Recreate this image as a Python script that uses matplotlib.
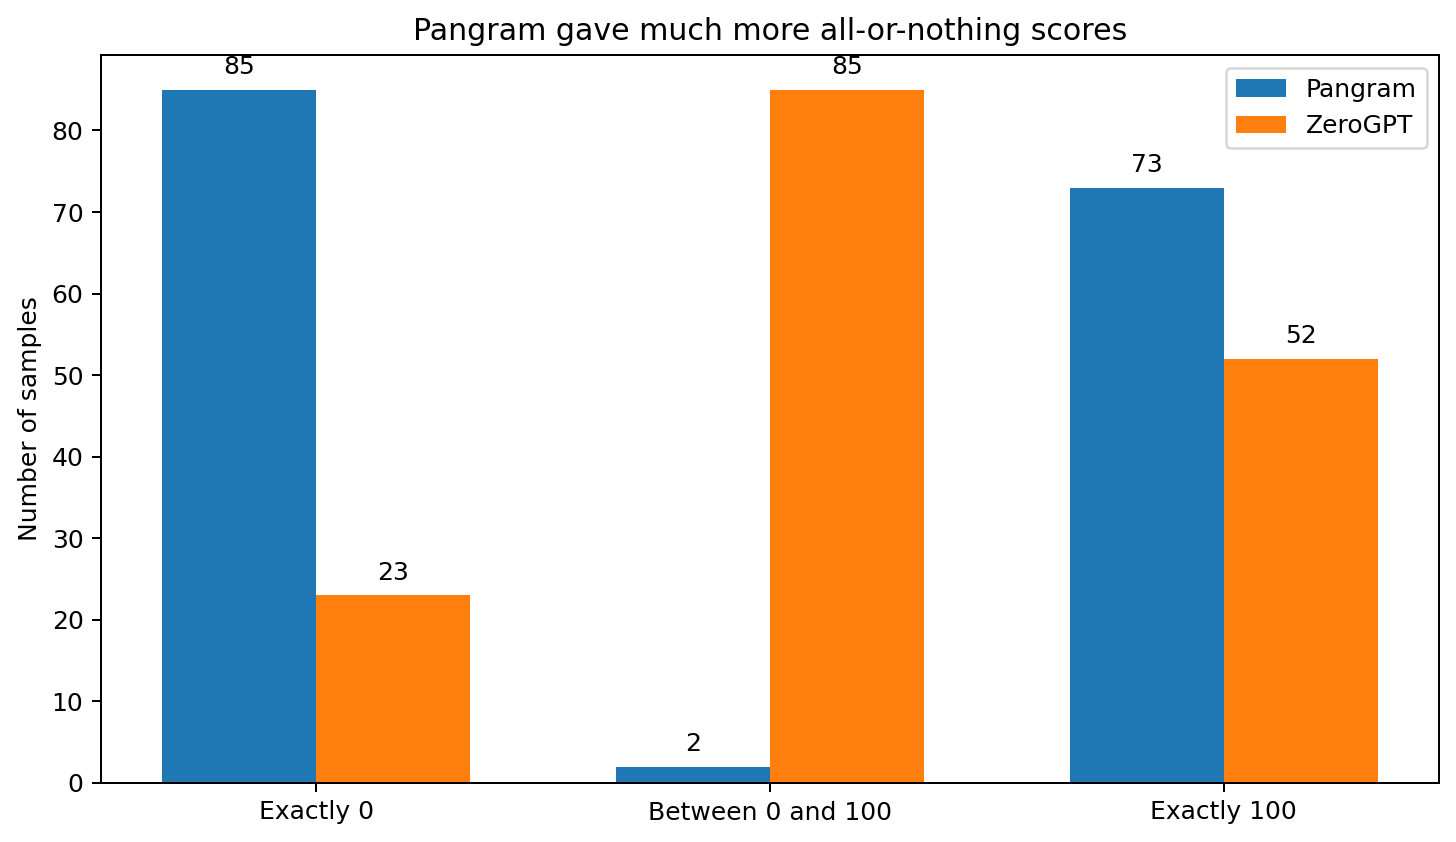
import numpy as np
import matplotlib.pyplot as plt

categories = ["Exactly 0", "Between 0 and 100", "Exactly 100"]
pangram = [85, 2, 73]
zerogpt = [23, 85, 52]

x = np.arange(len(categories))
width = 0.34

fig, ax = plt.subplots(figsize=(1456 / 180, 842 / 180), dpi=180)
b1 = ax.bar(x - width / 2, pangram, width, label="Pangram")
b2 = ax.bar(x + width / 2, zerogpt, width, label="ZeroGPT")
ax.bar_label(b1, padding=4.3)
ax.bar_label(b2, padding=4.3)

ax.set_xticks(x)
ax.set_xticklabels(categories)
ax.set_ylabel("Number of samples")
ax.set_title("Pangram gave much more all-or-nothing scores")
ax.legend()

fig.subplots_adjust(left=101 / 1456, right=1439 / 1456, top=1 - 55 / 842, bottom=1 - 783 / 842)
fig.savefig("out.png", dpi=180)
